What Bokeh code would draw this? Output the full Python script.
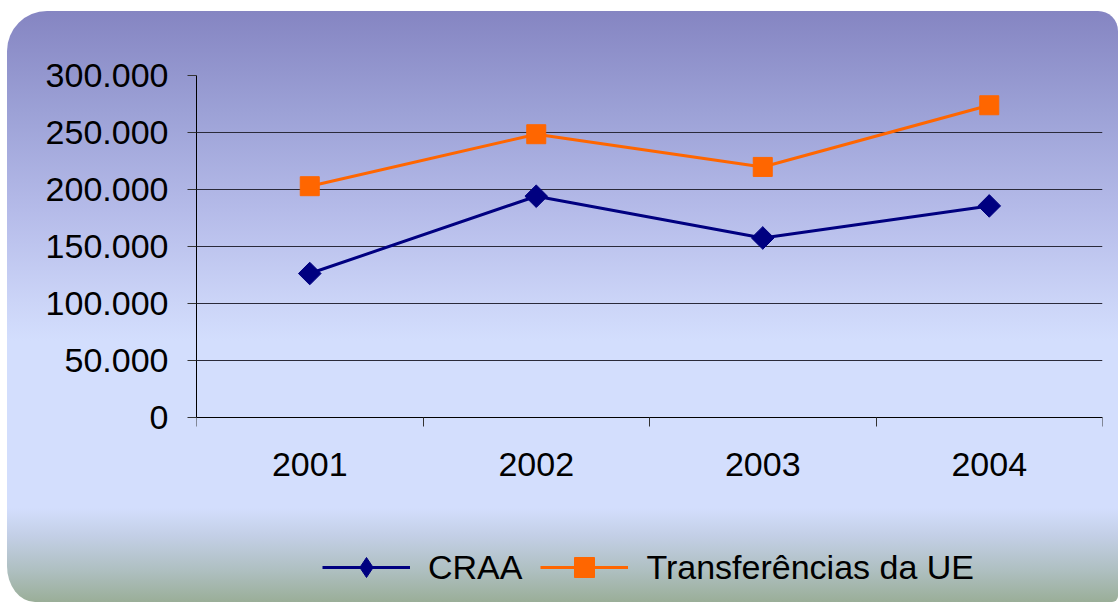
from math import pi
from bokeh.plotting import figure
from bokeh.models import (Range1d, LinearAxis, FixedTicker, Legend, LegendItem)
from bokeh.embed import file_html
from bokeh.resources import INLINE

years = ["2001", "2002", "2003", "2004"]
craa = [126300, 194100, 157500, 185600]
transferencias = [202900, 248500, 219800, 273900]
y_ticks = [0, 50000, 100000, 150000, 200000, 250000, 300000]
y_tick_labels = ["0", "50.000", "100.000", "150.000", "200.000", "250.000", "300.000"]
series_names = ["CRAA", "Transferências da UE"]

# category slots: each year sits in the middle of its slot
x_pos = [i + 0.5 for i in range(len(years))]
x_edges = list(range(len(years) + 1))

FONT = "Liberation Sans"
FS = "34px"

# layout geometry (page pixels): plotting frame extends below the value axis
# so that the legend can sit inside it
FIG_TOP, FIG_H = 11, 591
FRAME_TOP, ZERO_PX = 75, 417
MIN_BOTTOM = 10
FRAME_BOTTOM = FIG_TOP + FIG_H - MIN_BOTTOM
y_max = y_ticks[-1]
y_min = -y_max * (FRAME_BOTTOM - ZERO_PX) / (ZERO_PX - FRAME_TOP)

bg = ("linear-gradient(to bottom, #8585C2 0px, #9CA1D6 100px, #B5BBE9 200px, "
      "#CBD4F7 290px, #D3DEFD 330px, #D3DEFD 497px, #C3CFE6 525px, "
      "#AEBFC0 560px, #9AAE98 591px)")

p = figure(x_range=Range1d(0, len(years)), y_range=Range1d(y_min, y_max),
           width=1111, height=FIG_H, output_backend="svg", toolbar_location=None,
           x_axis_location=None,
           min_border_left=189, min_border_right=16,
           min_border_top=FRAME_TOP - FIG_TOP, min_border_bottom=MIN_BOTTOM,
           styles={"margin-top": f"{FIG_TOP}px", "margin-left": "7px", "background": bg,
                   "border-radius": "40px 20px 6px 28px / 40px 20px 6px 36px"})
p.background_fill_alpha = 0
p.border_fill_alpha = 0
p.outline_line_color = None

# y axis
yax = p.yaxis[0]
yax.ticker = FixedTicker(ticks=y_ticks)
yax.bounds = (y_ticks[0], y_ticks[-1])
yax.major_label_overrides = {t: l for t, l in zip(y_ticks, y_tick_labels)}
yax.major_tick_out = 9
yax.major_tick_in = 0
yax.minor_tick_line_color = None
yax.major_label_standoff = 19
yax.major_label_text_font = FONT
yax.major_label_text_font_size = FS
yax.major_label_text_color = "black"
yax.axis_line_color = "black"
yax.major_tick_line_color = "#333333"

p.ygrid.ticker = FixedTicker(ticks=y_ticks)
p.ygrid.grid_line_color = "#2a2a3a"
p.xgrid.grid_line_color = None

# x axis at value 0: ticks at category boundaries, labels at centers
tick_axis = LinearAxis(ticker=FixedTicker(ticks=x_edges), fixed_location=0,
                       major_tick_out=9, major_tick_in=0,
                       major_label_text_font_size="0px", major_label_standoff=0,
                       major_label_overrides={e: "" for e in x_edges},
                       axis_line_color="black", major_tick_line_color="#333333",
                       minor_tick_line_color=None)
p.add_layout(tick_axis, "below")
label_axis = LinearAxis(ticker=FixedTicker(ticks=x_pos), fixed_location=0,
                        major_label_overrides={x: y for x, y in zip(x_pos, years)},
                        axis_line_color=None, major_tick_line_color=None,
                        minor_tick_line_color=None,
                        major_tick_out=0, major_tick_in=0,
                        major_label_standoff=35,
                        major_label_text_font=FONT,
                        major_label_text_font_size=FS,
                        major_label_text_color="black")
p.add_layout(label_axis, "below")

# series
l1 = p.line(x_pos, craa, line_color="#000080", line_width=3)
m1 = p.scatter(x_pos, craa, marker="square", angle=pi / 4, size=16,
               fill_color="#000080", line_color="#000080")
m1_key = p.scatter(x_pos, craa, marker="diamond", size=20, visible=False,
                   fill_color="#000080", line_color="#000080")
l2 = p.line(x_pos, transferencias, line_color="#FF6600", line_width=3)
m2 = p.scatter(x_pos, transferencias, marker="square", size=19,
               fill_color="#FF6600", line_color="#FF6600")

legend = Legend(items=[LegendItem(label=series_names[0], renderers=[l1, m1_key]),
                       LegendItem(label=series_names[1], renderers=[l2, m2])],
                orientation="horizontal", location=(126, 0),
                glyph_width=88, glyph_height=50, label_standoff=18, spacing=18,
                padding=0, margin=0, background_fill_alpha=0,
                border_line_color=None, click_policy="none",
                label_text_font=FONT, label_text_font_size=FS,
                label_text_color="black")
p.add_layout(legend, "center")

open("out.html", "w").write(file_html(p, INLINE))
